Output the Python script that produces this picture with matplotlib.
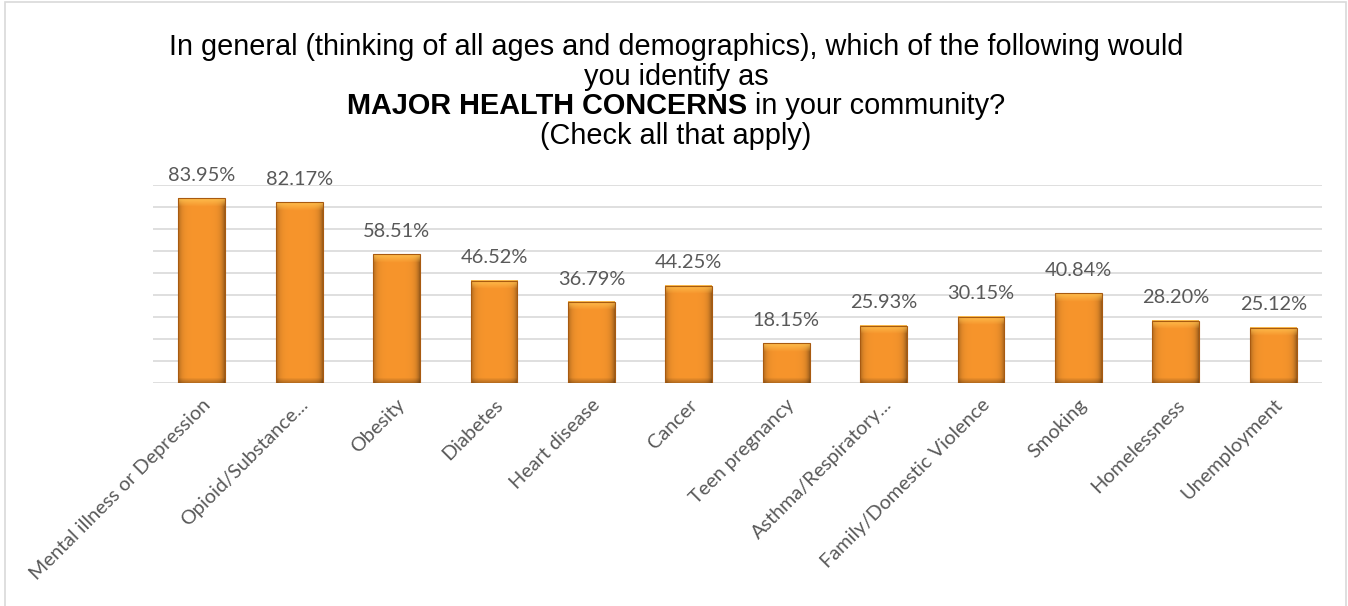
import numpy as np
import matplotlib
matplotlib.use("Agg")
import matplotlib.pyplot as plt
from matplotlib.patches import Rectangle
from matplotlib.colors import to_rgb

categories = ["Mental illness or Depression", "Opioid/Substance...", "Obesity", "Diabetes",
              "Heart disease", "Cancer", "Teen pregnancy", "Asthma/Respiratory...",
              "Family/Domestic Violence", "Smoking", "Homelessness", "Unemployment"]
values = [83.95, 82.17, 58.51, 46.52, 36.79, 44.25, 18.15, 25.93, 30.15, 40.84, 28.20, 25.12]

TITLE_FONT = "Liberation Sans"
LABEL_FONT = "Lato"
GRAY = "#595959"
TITLE_SIZE = 20.8


def shaded_bar(ax, bar, px_per_unit):
    # fill one bar with a bevelled orange gradient
    x0, w, h = bar.get_x(), bar.get_width(), bar.get_height()
    nx = 60
    ny = max(int(h * px_per_unit), 2)
    u = np.linspace(0, 1, nx)
    shade = 1 - 0.30 * np.exp(-u / 0.07) - 0.38 * np.exp(-(1 - u) / 0.07)
    base = np.array(to_rgb("#f7952c"))
    img = np.ones((ny, nx, 3)) * base
    img *= shade[None, :, None]
    hi = np.array(to_rgb("#ffc452"))
    rows = np.arange(ny)
    top = np.clip(1 - rows / 8.0, 0, 1)[:, None] * 0.85
    img = img * (1 - top[..., None]) + hi * top[..., None]
    bot = np.clip(1 - (ny - 1 - rows) / 5.0, 0, 1)[:, None] * 0.25
    img = img * (1 - bot[..., None])
    ax.imshow(np.clip(img, 0, 1), extent=(x0, x0 + w, 0, h), origin="upper",
              aspect="auto", interpolation="bilinear", zorder=2.5)
    ax.add_patch(Rectangle((x0, 0), w, h, fill=False, edgecolor="#a85a10",
                           linewidth=0.8, zorder=3))


fig = plt.figure(figsize=(13.48, 6.06), dpi=100)
ax = fig.add_axes([0.1135, 0.368, 0.8672, 0.327])
x = np.arange(len(categories))
bars = ax.bar(x, values, width=0.48, color="#f39128", linewidth=0, zorder=2)
ax.set_yticks(np.arange(0, 91, 10))
ax.grid(axis="y", color="#d9d9d9", linewidth=1.2, zorder=0)
ax.tick_params(left=False, labelleft=False, bottom=False, pad=6)
for s in ax.spines.values():
    s.set_visible(False)

px_per_unit = 0.327 * 606 / 90
for b, v in zip(bars, values):
    shaded_bar(ax, b, px_per_unit)
    ax.annotate(f"{v:.2f}%", (b.get_x() + b.get_width() / 2, v), xytext=(0, 16.5),
                textcoords="offset points", ha="center", va="center",
                fontsize=14.4, color=GRAY, family=LABEL_FONT)

ax.set_xticks(x)
ax.set_xticklabels(categories, rotation=45, ha="right", rotation_mode="anchor",
                   fontsize=14.3, color=GRAY, family=LABEL_FONT)
ax.set_xlim(-0.5, len(categories) - 0.5)
ax.set_ylim(0, 90)

# title, third line mixes bold and regular
cx = 0.5015
fig.text(cx, 0.922, "In general (thinking of all ages and demographics), which of the following would",
         ha="center", va="center", fontsize=TITLE_SIZE, family=TITLE_FONT)
fig.text(cx, 0.873, "you identify as", ha="center", va="center", fontsize=TITLE_SIZE,
         family=TITLE_FONT)
fig.text(cx, 0.776, "(Check all that apply)", ha="center", va="center", fontsize=TITLE_SIZE,
         family=TITLE_FONT)
renderer = fig.canvas.get_renderer()
t1 = fig.text(0, 0.825, "MAJOR HEALTH CONCERNS", ha="left", va="center", fontsize=TITLE_SIZE,
              family=TITLE_FONT, weight="bold")
t2 = fig.text(0, 0.825, " in your community?", ha="left", va="center", fontsize=TITLE_SIZE,
              family=TITLE_FONT)
w1 = t1.get_window_extent(renderer).width / fig.bbox.width
w2 = t2.get_window_extent(renderer).width / fig.bbox.width
left = cx - (w1 + w2) / 2
t1.set_x(left)
t2.set_x(left + w1)

fig.patches.append(Rectangle((5 / 1348, -0.01), 1341 / 1348, 1 - 2 / 606 + 0.01,
                             transform=fig.transFigure, fill=False,
                             edgecolor="#d9d9d9", linewidth=1.2))

fig.savefig("out.png", dpi=100)
